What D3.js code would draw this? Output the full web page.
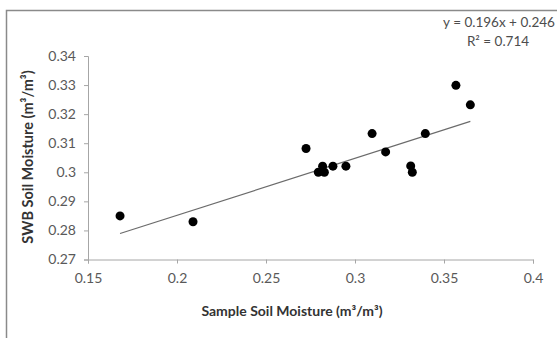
<!DOCTYPE html>
<html>
<head>
<meta charset="utf-8">
<title>SWB vs Sample Soil Moisture</title>
<script src="https://cdn.jsdelivr.net/npm/d3@7"></script>
<style>
    body { margin: 0; background: #fff; }
    text { font-family: Lato, "Open Sans", sans-serif; }
</style>
</head>
<body>
<svg id="chart"></svg>
<script>
    // data
    var sampleMoisture = [0.168, 0.209, 0.2725, 0.2794, 0.2818, 0.2828, 0.2876, 0.2949, 0.3096, 0.3172, 0.3313, 0.3322, 0.3395, 0.3567, 0.3648];
    var swbMoisture   = [0.285, 0.283, 0.3082, 0.300, 0.3021, 0.300, 0.3021, 0.3021, 0.3133, 0.307, 0.3022, 0.300, 0.3133, 0.3299, 0.3232];
    var xTicks = [0.15, 0.2, 0.25, 0.3, 0.35, 0.4];
    var yTicks = [0.27, 0.28, 0.29, 0.3, 0.31, 0.32, 0.33, 0.34];
    var slope = 0.196, intercept = 0.246, r2 = 0.714;

    var width = 557, height = 338;
    var svg = d3.select("#chart").attr("width", width).attr("height", height);

    // frame
    svg.append("path")
        .attr("d", "M6.5," + height + "V10.5H" + width)
        .attr("fill", "none").attr("stroke", "#8a8a8a").attr("stroke-width", 1.5);

    var x = d3.scaleLinear().domain([0.15, 0.4]).range([88, 533]);
    var y = d3.scaleLinear().domain([0.27, 0.34]).range([259.5, 56]);

    var xAxis = svg.append("g")
        .attr("transform", "translate(0," + y(0.27) + ")")
        .call(d3.axisBottom(x).tickValues(xTicks).tickSize(4).tickPadding(10).tickFormat(d3.format("")));
    var yAxis = svg.append("g")
        .attr("transform", "translate(" + x(0.15) + ",0)")
        .call(d3.axisLeft(y).tickValues(yTicks).tickSize(4).tickPadding(8).tickFormat(d3.format("")));

    [xAxis, yAxis].forEach(function(a) {
        a.select(".domain").attr("stroke", "#a6a6a6");
        a.selectAll(".tick line").attr("stroke", "#a6a6a6");
        a.selectAll(".tick text").attr("fill", "#595959").style("font-size", "14px");
    });

    // trendline
    var xMin = d3.min(sampleMoisture), xMax = d3.max(sampleMoisture);
    svg.append("line")
        .attr("x1", x(xMin)).attr("y1", y(slope * xMin + intercept))
        .attr("x2", x(xMax)).attr("y2", y(slope * xMax + intercept))
        .attr("stroke", "#6b6b6b").attr("stroke-width", 1.2);

    // points
    svg.append("g").selectAll("circle")
        .data(sampleMoisture)
        .enter().append("circle")
        .attr("cx", function(d) { return x(d); })
        .attr("cy", function(d, i) { return y(swbMoisture[i]); })
        .attr("r", 4.5)
        .attr("fill", "#000");

    // equation
    svg.append("text")
        .attr("x", 499).attr("y", 27)
        .attr("text-anchor", "middle")
        .attr("fill", "#4d4d4d").style("font-size", "13.5px")
        .text("y = " + slope + "x + " + intercept);
    svg.append("text")
        .attr("x", 498).attr("y", 46)
        .attr("text-anchor", "middle")
        .attr("fill", "#4d4d4d").style("font-size", "13.5px")
        .text("R² = " + r2);

    // axis titles
    svg.append("text")
        .attr("x", 292).attr("y", 316)
        .attr("text-anchor", "middle")
        .attr("fill", "#333").style("font-size", "14px").style("font-weight", "bold")
        .text("Sample Soil Moisture (m³/m³)");
    svg.append("text")
        .attr("transform", "translate(33,157) rotate(-90)")
        .attr("text-anchor", "middle")
        .attr("fill", "#333").style("font-size", "14.5px").style("font-weight", "bold")
        .text("SWB Soil Moisture (m³/m³)");
</script>
</body>
</html>
